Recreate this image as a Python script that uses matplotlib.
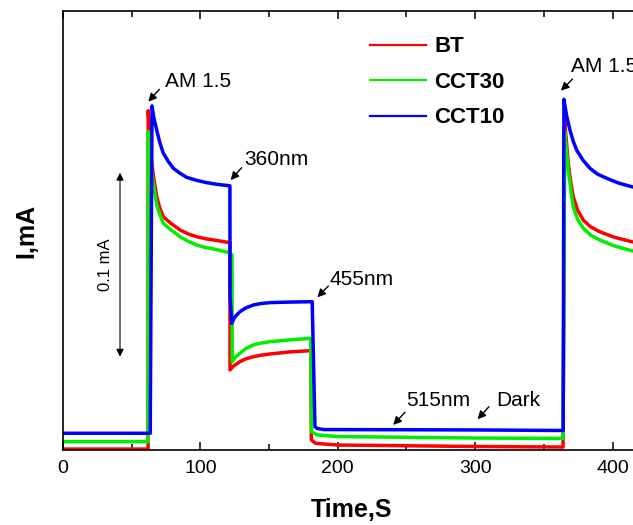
import matplotlib
matplotlib.use("Agg")
import matplotlib.pyplot as plt

plt.rcParams["font.family"] = ["Liberation Sans", "DejaVu Sans"]

# photocurrent traces (time in s, current in mA)
t_bt = [0, 61.9, 62.0, 64.5, 66, 68.2, 70.5, 73, 78.5, 85.2, 91, 97.3, 104, 110, 121.5,
        121.6, 124, 128.8, 133, 138.5, 144, 150.7, 165, 180.3, 180.8, 184, 200, 250,
        300, 364, 365.2, 366.5, 367.8, 369.5, 371.4, 374.5, 378.7, 384, 390.8, 401,
        413.9, 420]
i_bt = [0.0005, 0.0005, 0.1844, 0.1567, 0.1480, 0.1377, 0.1315, 0.1268, 0.1232, 0.1196,
        0.1175, 0.1159, 0.1148, 0.1141, 0.1127, 0.0435, 0.0456, 0.0480, 0.0495, 0.0507,
        0.0515, 0.0522, 0.0533, 0.0540, 0.0054, 0.0036, 0.0027, 0.0023, 0.0019, 0.0016,
        0.1790, 0.1670, 0.1558, 0.1460, 0.1377, 0.1305, 0.1250, 0.1213, 0.1186, 0.1157,
        0.1132, 0.1125]

t_cct30 = [0, 61.9, 62.0, 64.5, 66, 68.2, 70.5, 73, 78.5, 85.2, 91, 97.3, 104, 110, 121.5,
           123, 123.2, 125.5, 128.8, 133, 138.5, 144, 150.7, 165, 180.3, 181, 185, 200,
           250, 300, 364, 365.2, 366.5, 367.8, 369.5, 371.4, 374.5, 378.7, 384, 390.8,
           401, 413.9, 420]
i_cct30 = [0.0045, 0.0045, 0.1730, 0.1513, 0.1435, 0.1332, 0.1280, 0.1232, 0.1197, 0.1159,
           0.1135, 0.1114, 0.1100, 0.1092, 0.1072, 0.1060, 0.0480, 0.0505, 0.0526, 0.0551,
           0.0571, 0.0581, 0.0589, 0.0598, 0.0607, 0.0099, 0.0082, 0.0073, 0.0069, 0.0065,
           0.0063, 0.1730, 0.1620, 0.1522, 0.1420, 0.1322, 0.1255, 0.1205, 0.1168, 0.1141,
           0.1110, 0.1083, 0.1076]

t_cct10 = [0, 63.5, 64.8, 66, 68.2, 70.5, 73, 76.5, 80.3, 85, 90, 97, 104.6, 113, 121.5,
           121.6, 122.8, 125, 128.8, 133, 138.5, 144, 150.7, 165, 181.4, 183.4, 185, 190,
           250, 300, 364.1, 364.6, 366.5, 369, 371.3, 373.9, 378.5, 383.6, 389, 395.7,
           404, 413.9, 420]
i_cct10 = [0.0091, 0.0091, 0.1870, 0.1810, 0.1739, 0.1670, 0.1613, 0.1570, 0.1531, 0.1505,
           0.1482, 0.1466, 0.1453, 0.1443, 0.1436, 0.0833, 0.0689, 0.0722, 0.0752, 0.0772,
           0.0788, 0.0796, 0.0801, 0.0804, 0.0806, 0.0127, 0.0117, 0.0111, 0.0110, 0.0109,
           0.0106, 0.1906, 0.1820, 0.1739, 0.1680, 0.1630, 0.1575, 0.1531, 0.1500, 0.1477,
           0.1452, 0.1431, 0.1421]

labels = ["BT", "CCT30", "CCT10"]
colors = ["#ff0000", "#00ee00", "#0000ff"]

# annotations: text, text position, arrow head, arrow tail
notes = [
    ("AM 1.5", (74.2, 0.1971), (62.1, 0.1893), (70.1, 0.1960)),
    ("AM 1.5", (369.5, 0.2056), (362.4, 0.1953), (370.9, 0.2016)),
    ("360nm", (132.0, 0.1549), (122.0, 0.1467), (130.0, 0.1534)),
    ("455nm", (194.3, 0.0897), (185.1, 0.0830), (193.1, 0.0891)),
    ("515nm", (250.1, 0.0239), (240.4, 0.0136), (248.9, 0.0205)),
    ("Dark", (315.6, 0.0239), (301.8, 0.0167), (310.0, 0.0235)),
]

fig = plt.figure(figsize=(6.33, 5.25), dpi=100)
ax = fig.add_axes([63 / 633, 75 / 525, 577 / 633, 439 / 525])

for t, i, lab, c in zip([t_bt, t_cct30, t_cct10], [i_bt, i_cct30, i_cct10], labels, colors):
    ax.plot(t, i, color=c, lw=2.5, label=lab)

ax.set_xlim(0, 420)
ax.set_ylim(0, 0.2386)

for text, xyt, head, tail in notes:
    ax.text(xyt[0], xyt[1], text, fontsize=15, va="baseline", ha="left")
    ax.annotate("", xy=head, xytext=tail,
                arrowprops=dict(arrowstyle="-|>", color="k", lw=1, mutation_scale=12,
                                shrinkA=0, shrinkB=0))

# 0.1 mA scale bar
ax.annotate("", xy=(41.5, 0.1507), xytext=(41.5, 0.0507),
            arrowprops=dict(arrowstyle="<|-|>", color="k", lw=0.8, mutation_scale=11,
                            shrinkA=0, shrinkB=0))
ax.text(30.6, 0.1007, "0.1 mA", rotation=90, fontsize=12, ha="center", va="center")

ax.set_xticks([0, 100, 200, 300, 400])
ax.set_xticks([50, 150, 250, 350], minor=True)
ax.set_yticks([])
ax.tick_params(axis="x", which="both", direction="in", top=True, labelsize=14, pad=7)
ax.tick_params(axis="x", which="major", length=6, width=1.1)
ax.tick_params(axis="x", which="minor", length=4, width=1.1)
for s in ax.spines.values():
    s.set_linewidth(1.2)

ax.set_xlabel("Time,S", fontsize=18, fontweight="bold", labelpad=15)
ax.set_ylabel("I,mA", fontsize=18, fontweight="bold", labelpad=18)

leg = ax.legend(loc="upper left", bbox_to_anchor=(0.532, 0.942), frameon=False,
                prop=dict(size=16, weight="bold"), handlelength=2.5,
                handletextpad=0.4, labelspacing=0.65, borderpad=0, borderaxespad=0)
for ln in leg.get_lines():
    ln.set_linewidth(1.6)

fig.savefig("out.png", dpi=100)
